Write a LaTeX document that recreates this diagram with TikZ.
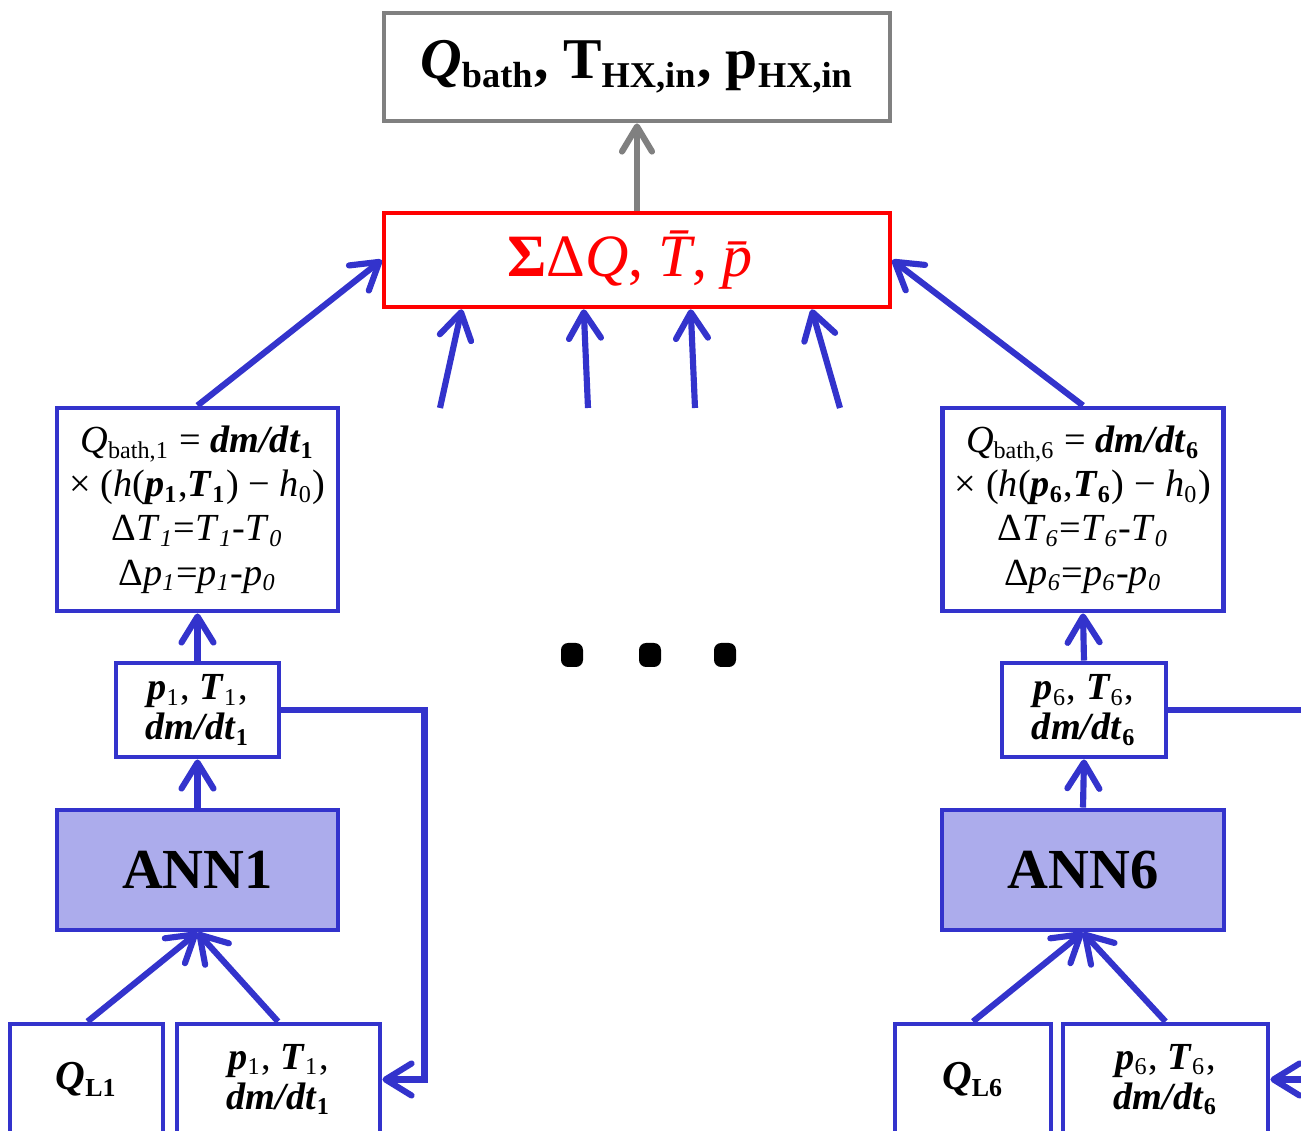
\documentclass[tikz,border=0pt]{standalone}
\usepackage{fontspec}
\setmainfont{Liberation Serif}
\renewcommand{\defaultscriptratio}{.63}
\usetikzlibrary{arrows.meta, positioning, calc}
\definecolor{myblue}{RGB}{51,51,204}
\definecolor{annfill}{RGB}{172,172,236}
\definecolor{mygray}{RGB}{128,128,128}
\definecolor{myred}{RGB}{255,0,0}
% text of the heat balance boxes
\newcommand{\heatbal}[1]{%
  \textit{Q}\textsubscript{bath,#1} = \textbf{\textit{dm/dt}}\textsubscript{\textbf{#1}}\\
  × (\textit{h}(\textbf{\textit{p}}\textsubscript{\textbf{#1}},\textbf{\textit{T}}\textsubscript{\textbf{#1}}) − \textit{h}\textsubscript{0})\\
  Δ\textit{T}\textsubscript{\textit{#1}}=\textit{T}\textsubscript{\textit{#1}}-\textit{T}\textsubscript{\textit{0}}\\
  Δ\textit{p}\textsubscript{\textit{#1}}=\textit{p}\textsubscript{\textit{#1}}-\textit{p}\textsubscript{\textit{0}}}
% text of the state boxes
\newcommand{\stateval}[1]{%
  \textbf{\textit{p}}\textsubscript{#1}, \textbf{\textit{T}}\textsubscript{#1},\\
  \textbf{\textit{dm/dt}}\textsubscript{\textbf{#1}}}
\tikzset{
  outbox/.style={rectangle, draw=mygray, line width=1.4pt, inner sep=0pt,
    font=\fontsize{16.4}{20}\selectfont\bfseries},
  sumbox/.style={rectangle, draw=myred, line width=1.3pt, inner sep=0pt,
    text=myred, font=\fontsize{17.1}{20}\selectfont},
  calcbox/.style={rectangle, draw=myblue, line width=1.4pt, inner sep=0pt,
    align=center, minimum width=2.81cm, minimum height=2.03cm,
    font=\fontsize{10.9}{12.6}\selectfont},
  annbox/.style={rectangle, draw=myblue, fill=annfill, line width=1.4pt,
    minimum width=2.81cm, minimum height=1.2cm,
    font=\fontsize{16.1}{20}\selectfont\bfseries},
  valbox/.style={rectangle, draw=myblue, line width=1.4pt, inner sep=0pt,
    align=center, font=\fontsize{10.9}{11.4}\selectfont},
  dotnode/.style={rectangle, fill=black, rounded corners=2pt, inner sep=0pt,
    minimum width=0.22cm, minimum height=0.24cm},
  arrow/.style={-{Straight Barb[length=2.6mm, width=3.2mm, round]}, line width=1.75pt, color=myblue},
  grayarrow/.style={-{Straight Barb[length=2.5mm, width=3mm, round]}, line width=1.75pt, color=mygray},
  line/.style={line width=1.75pt, color=myblue}
}
\begin{document}
\begin{tikzpicture}
  \useasboundingbox (0,0) rectangle (13.01,11.31);
  \clip (0,0) rectangle (13.01,11.31);

  % Output and summation
  \node[outbox, minimum width=5.06cm, minimum height=1.08cm] (out) at (6.37,10.64)
    {\textit{Q}\textsubscript{bath}, T\textsubscript{HX,in}, p\textsubscript{HX,in}};
  \node[sumbox, minimum width=5.06cm, minimum height=0.94cm] (sum) at (6.37,8.71)
    {\textbf{Σ}Δ\textit{Q}, \textit{\={T}}, \textit{\={p}}};
  \draw[grayarrow] (sum.north) -- (out.south);

  % Heat balance boxes
  \node[calcbox] (bal1) at (1.975,6.215) {\heatbal{1}};
  \node[calcbox] (bal6) at (10.83,6.215) {\heatbal{6}};
  \draw[arrow] (bal1.north) -- (sum.west);
  \draw[arrow] (bal6.north) -- (sum.east);

  % Other networks (not shown)
  \coordinate (m1) at (4.40,7.23);
  \coordinate (m2) at (5.88,7.23);
  \coordinate (m3) at (6.95,7.23);
  \coordinate (m4) at (8.40,7.23);
  \draw[arrow] (m1) -- ([xshift=0.80cm]sum.south west);
  \draw[arrow] (m2) -- ([xshift=2.02cm]sum.south west);
  \draw[arrow] (m3) -- ([xshift=3.09cm]sum.south west);
  \draw[arrow] (m4) -- ([xshift=4.30cm]sum.south west);
  \node[dotnode] (dot1) at (5.72,4.76) {};
  \node[dotnode] (dot2) at (6.50,4.76) {};
  \node[dotnode] (dot3) at (7.25,4.76) {};

  % Network 1
  \node[valbox, minimum width=1.63cm, minimum height=0.94cm] (val1) at (1.975,4.21) {\stateval{1}};
  \node[annbox] (ann1) at (1.975,2.61) {ANN1};
  \node[valbox, minimum width=1.53cm, minimum height=1.11cm, font=\fontsize{11.7}{14}\selectfont] (ql1) at (0.865,0.515)
    {\textbf{\textit{Q}}\textsubscript{\textbf{L1}}};
  \node[valbox, minimum width=2.03cm, minimum height=1.11cm] (in1) at (2.785,0.515) {\stateval{1}};
  \draw[arrow] (ann1.north) -- (val1.south);
  \draw[arrow] (val1.north) -- (bal1.south);
  \draw[arrow] ([xshift=0.01cm]ql1.north) -- (ann1.south);
  \draw[arrow] ([xshift=-0.005cm]in1.north) -- (ann1.south);
  \draw[arrow] (val1.east) -- ++(1.43,0) |- (in1.east);

  % Network 6
  \node[valbox, minimum width=1.64cm, minimum height=0.94cm] (val6) at (10.84,4.21) {\stateval{6}};
  \node[annbox, minimum width=2.82cm] (ann6) at (10.83,2.61) {ANN6};
  \node[valbox, minimum width=1.56cm, minimum height=1.11cm, font=\fontsize{11.7}{14}\selectfont] (ql6) at (9.73,0.515)
    {\textbf{\textit{Q}}\textsubscript{\textbf{L6}}};
  \node[valbox, minimum width=2.05cm, minimum height=1.11cm] (in6) at (11.655,0.515) {\stateval{6}};
  \coordinate (r6) at (13.40,4.21);
  \coordinate (s6) at (13.40,0.515);
  \draw[arrow] (ann6.north) -- (val6.south);
  \draw[arrow] (val6.north) -- (bal6.south);
  \draw[arrow] (ql6.north) -- (ann6.south);
  \draw[arrow] (in6.north) -- (ann6.south);
  \draw[line] (val6.east) -- (r6);
  \draw[arrow] (s6) -- (in6.east);
\end{tikzpicture}
\end{document}
